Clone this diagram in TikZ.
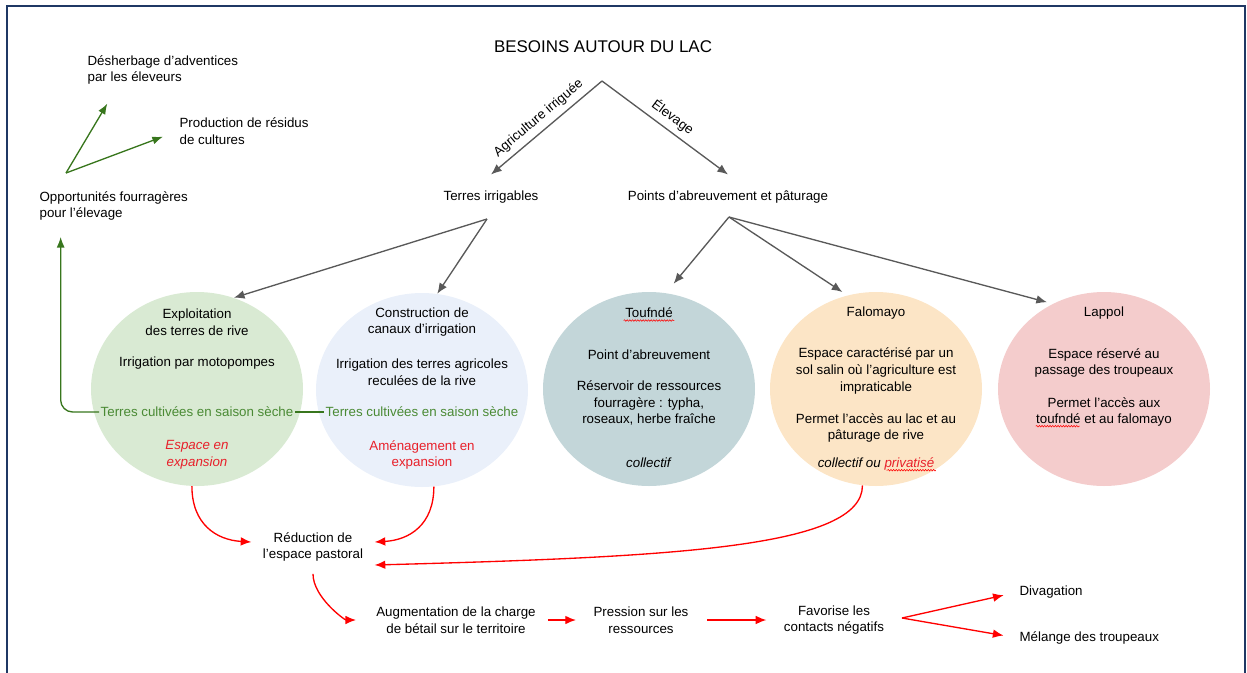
\documentclass[tikz,border=0pt]{standalone}
\usepackage{fontspec}
\setmainfont{Liberation Sans}
\usetikzlibrary{shapes.geometric,arrows.meta,decorations.pathmorphing}

\definecolor{cadre}{HTML}{1F3864}
\definecolor{gris}{HTML}{595959}
\definecolor{vertf}{HTML}{38761D}
\definecolor{vertt}{HTML}{4A8A34}
\definecolor{rouge}{HTML}{FF0000}
\definecolor{rouget}{HTML}{E8202A}
\definecolor{vert}{HTML}{D9EAD3}
\definecolor{bleu}{HTML}{EAF0FA}
\definecolor{touf}{HTML}{C3D6D9}
\definecolor{falo}{HTML}{FCE5C6}
\definecolor{lapp}{HTML}{F4CCCC}

\begin{document}
\begin{tikzpicture}[x=0.75pt,y=-0.75pt,
    txt/.style={font=\fontsize{10}{12.5}\selectfont, align=center, inner sep=1pt},
    gauche/.style={txt, align=left, anchor=west},
    bulle/.style={ellipse, minimum width=159pt, minimum height=145.5pt, inner sep=0pt},
    fleche/.style={draw=gris, line width=1pt, -{Latex[length=8pt,width=6.5pt]}},
    vertfl/.style={draw=vertf, line width=1pt, -{Latex[length=8pt,width=6pt]}},
    rougefl/.style={draw=rouge, line width=1pt, -{Latex[length=8pt,width=6.5pt]}},
    faute/.style={draw=rouge, line width=0.4pt, decorate, decoration={snake, amplitude=0.6pt, segment length=2pt}}]
        \useasboundingbox (0,0) rectangle (1247,672);
        \draw[cadre, line width=1.8pt] (7,6) rectangle (1245,700); % cadre

        % titre et branches
        \node[txt, font=\fontsize{12.7}{15}\selectfont] (besoins) at (603,47) {BESOINS AUTOUR DU LAC};
        \coordinate (sommet) at (602,81);
        \node[txt] (irrig) at (491,197) {Terres irrigables};
        \node[txt] (paturage) at (728,197) {Points d'abreuvement et pâturage};
        \draw[fleche] (sommet) -- node[txt, sloped, above=3pt] {Agriculture irriguée} ([yshift=11pt]irrig.north);
        \draw[fleche] (sommet) -- node[txt, sloped, above=3pt] {Élevage} ([yshift=11pt]paturage.north);
        \coordinate (irrig-v) at (487,219);
        \coordinate (paturage-v) at (729,217);

        % bulles
        \node[bulle, fill=vert] (rive) at (197,389) {};
        \node[bulle, fill=bleu] (canal) at (422,390) {};
        \node[bulle, fill=touf] (touf) at (649,389) {};
        \node[bulle, fill=falo] (falo) at (876,389) {};
        \node[bulle, fill=lapp] (lappol) at (1104,389) {};
        \draw[fleche] (irrig-v) -- (rive.68);
        \draw[fleche] (irrig-v) -- (canal.81);
        \draw[fleche, shorten >=9pt] (paturage-v) -- (touf.80);
        \draw[fleche, shorten >=4.5pt] (paturage-v) -- (falo.107);
        \draw[fleche, shorten >=4.5pt] (paturage-v) -- (lappol.121);

        % terres de rive
        \node[txt] (rive-nom) at (197,322) {Exploitation\\des terres de rive};
        \node[txt] (rive-irr) at (197,363) {Irrigation par motopompes};
        \node[txt, text=vertt] (rive-c) at (197,412) {Terres cultivées en saison sèche};
        \node[txt, text=rouget] (rive-exp) at (197,455) {\textit{Espace en}\\\textit{expansion}};
        % canaux
        \node[txt] (canal-nom) at (422,322) {Construction de\\canaux d'irrigation};
        \node[txt] (canal-irr) at (422,372) {Irrigation des terres agricoles\\reculées de la rive};
        \node[txt, text=vertt] (canal-c) at (422,412) {Terres cultivées en saison sèche};
        \node[txt, text=rouget] (canal-exp) at (422,455) {Aménagement en\\expansion};
        % toufnde
        \node[txt] (touf-nom) at (649,313) {Toufndé};
        \node[txt] (touf-abr) at (649,355) {Point d'abreuvement};
        \node[txt] (touf-res) at (649,403) {Réservoir de ressources\\fourragère : typha,\\roseaux, herbe fraîche};
        \node[txt] (touf-st) at (649,463) {\textit{collectif}};
        % falomayo
        \node[txt] (falo-nom) at (876,313) {Falomayo};
        \node[txt] (falo-sol) at (876,371) {Espace caractérisé par un\\sol salin où l'agriculture est\\impraticable};
        \node[txt] (falo-acc) at (876,428) {Permet l'accès au lac et au\\pâturage de rive};
        \node[txt] (falo-st) at (876,464) {\textit{collectif ou \textcolor{rouget}{privatisé}}};
        % lappol
        \node[txt] (lappol-nom) at (1104,313) {Lappol};
        \node[txt] (lappol-pas) at (1104,363) {Espace réservé au\\passage des troupeaux};
        \node[txt] (lappol-acc) at (1104,403) {Permet l'accès aux};
        \node[txt] (lappol-acc2) at (1104,420) {toufndé et au falomayo};
        % soulignes du correcteur
        \draw[faute] ([yshift=-2pt]touf-nom.base west) -- ([yshift=-2pt]touf-nom.base east);
        \draw[faute] ([yshift=-2pt]falo-st.base east) -- ++(-37pt,0);
        \draw[faute] ([yshift=-2pt,xshift=1pt]lappol-acc2.base west) -- ++(33pt,0);

        % opportunites fourrageres
        \node[gauche] (opport) at (38,206) {Opportunités fourragères\\pour l'élevage};
        \node[gauche] (desherb) at (86,70) {Désherbage d'adventices\\par les éleveurs};
        \node[gauche] (residus) at (178,131) {Production de résidus\\de cultures};
        \coordinate (opport-v) at (66,173);
        \draw[vertfl] (opport-v) -- ([xshift=16pt,yshift=-13pt]desherb.south west);
        \draw[vertfl, shorten >=12pt] (opport-v) -- (residus.west);
        \draw[vertfl, rounded corners=9pt] (rive-c.west) -| ([xshift=17pt,yshift=-11pt]opport.south west);
        \draw[draw=vertf, line width=1pt] (rive-c.east) -- (canal-c.west);

        % consequences
        \node[txt] (reduc) at (313,547) {Réduction de\\l'espace pastoral};
        \node[txt] (augm) at (456,620) {Augmentation de la charge\\de bétail sur le territoire};
        \node[txt] (press) at (641,620) {Pression sur les\\ressources};
        \node[txt] (favor) at (834,620) {Favorise les\\contacts négatifs};
        \node[gauche] (divag) at (1018,592) {Divagation};
        \node[gauche] (melange) at (1018,638) {Mélange des troupeaux};
        \coordinate (favor-v) at (902,618);
        \draw[rougefl] (rive.-93) .. controls +(0,38) and +(-35,-2) .. ([xshift=-7.5pt,yshift=3.75pt]reduc.west);
        \draw[rougefl] (canal.-83) .. controls +(0,38) and +(35,-2) .. ([xshift=7.5pt,yshift=3.75pt]reduc.east);
        \draw[rougefl] (falo.-98) .. controls +(0,62) and +(300,-8) .. ([xshift=7.5pt,yshift=-13.5pt]reduc.east);
        \draw[rougefl, shorten <=8pt, shorten >=14pt] (reduc.south) .. controls +(0,34) and +(-30,0) .. (augm.west);
        \draw[rougefl, shorten <=8pt, shorten >=12pt] (augm.east) -- (press.west);
        \draw[rougefl, shorten <=13pt, shorten >=12pt] (press.east) -- (favor.west);
        \draw[rougefl, shorten >=11pt] (favor-v) -- (divag.west);
        \draw[rougefl, shorten >=11pt] (favor-v) -- (melange.west);
\end{tikzpicture}
\end{document}
